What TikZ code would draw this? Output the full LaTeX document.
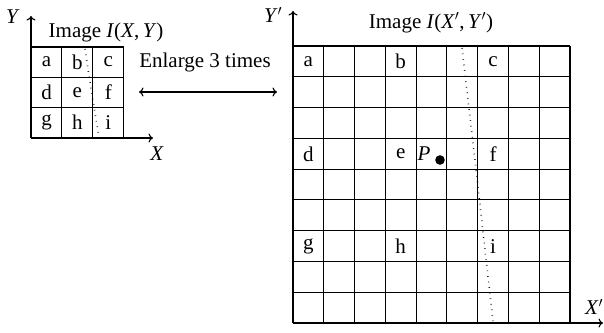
\documentclass[tikz,border=0pt]{standalone}
\usepackage{fontspec}
\setmainfont{Liberation Serif}
\usetikzlibrary{arrows.meta}
\begin{document}
\begin{tikzpicture}[x=1pt,y=-1pt,
  gridline/.style={line width=1.1pt},
  axis/.style={line width=1.1pt,-{To[length=4.5pt,width=9pt]}},
  lbl/.style={font=\fontsize{21}{23}\selectfont,inner sep=0pt},
  dotline/.style={line width=1.6pt,dash pattern=on 0.6pt off 5pt}]
\useasboundingbox (0,0) rectangle (604,332);
% small grid
\foreach \i in {0,1,2,3}{\draw[gridline] (31+30.9*\i,47) -- (31+30.9*\i,138);}
\foreach \j in {0,1,2,3}{\draw[gridline] (31,47+30.33*\j) -- (123.7,47+30.33*\j);}
\coordinate (o1) at (31,138);
\coordinate (ytip) at (31,16);
\coordinate (xtip) at (153,138);
\draw[axis] (o1) -- (ytip);
\draw[axis] (o1) -- (xtip);
\node[lbl] (Y) at (13,17) {\textit{Y}};
\node[lbl] (X) at (157,154) {\textit{X}};
\node[lbl] (t1) at (106,32) {Image \textit{I}(\textit{X},\,\textit{Y})};
\foreach \t [count=\k from 0] in {a,b,c,d,e,f,g,h,i}{
  \pgfmathtruncatemacro{\c}{mod(\k,3)}
  \pgfmathtruncatemacro{\r}{div(\k,3)}
  \node[lbl] (s\t) at (46.5+30.9*\c,62+30.33*\r) {\t};
}
\draw[dotline] (85,49) -- (92,95) -- (99,137);
% arrow
\node[lbl] (en) at (205,62) {Enlarge 3 times};
\coordinate (al) at (139,92);
\coordinate (ar) at (277,92);
\draw[line width=1.1pt,{To[length=4.5pt,width=9pt]}-{To[length=4.5pt,width=9pt]}] (al) -- (ar);
% big grid
\foreach \i in {0,...,9}{\draw[gridline] (293+30.78*\i,46) -- (293+30.78*\i,323);}
\foreach \j in {0,...,9}{\draw[gridline] (293,46+30.78*\j) -- (570,46+30.78*\j);}
\coordinate (o2) at (293,323);
\coordinate (ytip2) at (293,11);
\coordinate (xtip2) at (603,323);
\draw[axis] (o2) -- (ytip2);
\draw[axis] (o2) -- (xtip2);
\node[lbl] (Yp) at (273,15) {\textit{Y}$'$};
\node[lbl] (Xp) at (594,307) {\textit{X}$'$};
\node[lbl] (t2) at (431,23) {Image \textit{I}(\textit{X}$'$,\,\textit{Y}$'$)};
\foreach \t [count=\k from 0] in {a,b,c,d,e,f,g,h,i}{
  \pgfmathtruncatemacro{\c}{3*mod(\k,3)}
  \pgfmathtruncatemacro{\r}{3*div(\k,3)}
  \node[lbl] (b\t) at (308.4+30.78*\c,61.5+30.78*\r) {\t};
}
\node[lbl] (P) at (424,154) {\textit{P}};
\fill (440,160) circle (4.8pt);
\draw[dotline] (462,48) -- (476,169) -- (493,321);
\end{tikzpicture}
\end{document}
